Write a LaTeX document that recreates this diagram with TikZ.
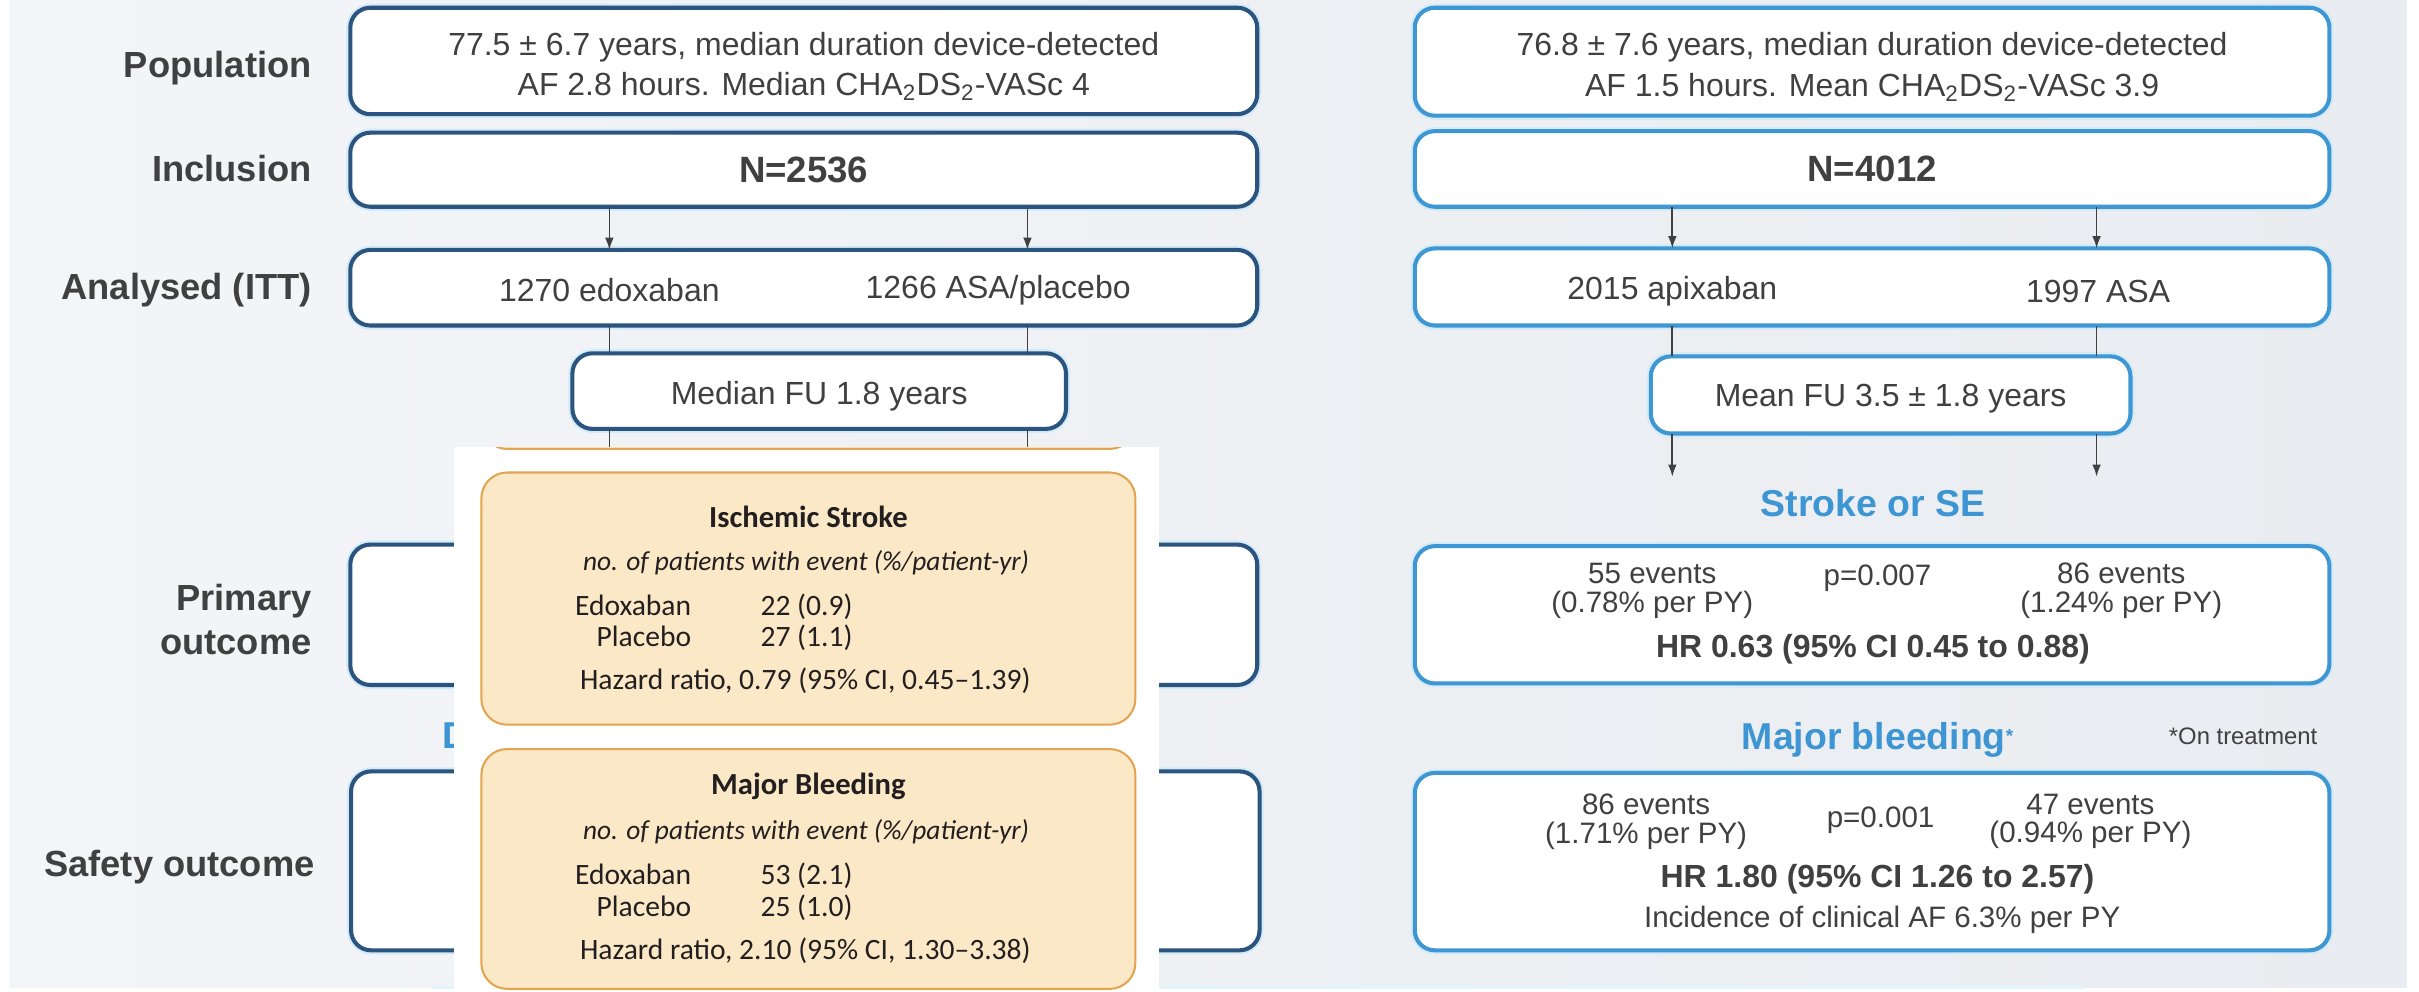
\documentclass[tikz,border=0pt]{standalone}
\usepackage{fontspec}
\setmainfont{Liberation Sans}
\newfontfamily\nejmfont{Carlito}
\usetikzlibrary{arrows.meta}
\definecolor{navyline}{HTML}{2B557F}
\definecolor{skyline}{HTML}{3E97D3}
\definecolor{glow}{HTML}{D3EBF9}
\definecolor{headblue}{HTML}{3D95D4}
\definecolor{txtgray}{HTML}{404040}
\definecolor{bgleft}{HTML}{F3F5F8}
\definecolor{bgright}{HTML}{E9ECF0}
\definecolor{barcyan}{HTML}{E0F5FC}
\definecolor{peach}{HTML}{FBE8C6}
\definecolor{peachline}{HTML}{E2A450}
\definecolor{nejmtext}{HTML}{231F20}

\begin{document}
\begin{tikzpicture}[x=0.02cm, y=-0.02cm,
  every node/.style={text=txtgray, inner sep=0pt, outer sep=0pt},
  navybox/.style={draw=navyline, line width=1.5pt, fill=white, rounded corners=7.4pt,
    preaction={draw=glow, line width=3pt}},
  skybox/.style={draw=skyline, line width=1.5pt, fill=white, rounded corners=7.4pt,
    preaction={draw=glow, line width=3pt}},
  peachbox/.style={draw=peachline, line width=0.75pt, fill=peach, rounded corners=9.5pt},
  body/.style={font=\fontsize{11.8}{15}\selectfont},
  bignum/.style={font=\fontsize{13.5}{16}\selectfont\bfseries},
  rowlbl/.style={anchor=east, align=right, font=\fontsize{13.4}{16.5}\selectfont\bfseries},
  headlbl/.style={text=headblue, font=\fontsize{13.8}{16}\selectfont\bfseries},
  evt/.style={align=center, font=\fontsize{10.9}{10.5}\selectfont},
  hrtxt/.style={font=\fontsize{11.8}{14}\selectfont\bfseries},
  nejm/.style={text=nejmtext, font=\nejmfont\fontsize{10.9}{13}\selectfont},
  nejmit/.style={text=nejmtext, font=\nejmfont\fontsize{10.1}{12}\selectfont\itshape},
  nejmbf/.style={text=nejmtext, font=\nejmfont\fontsize{11.3}{13}\selectfont\bfseries},
  ln/.style={draw=txtgray, line width=0.65pt},
  arr/.style={ln, -{Latex[length=4.5pt,width=3.2pt]}}]

\useasboundingbox (0,0) rectangle (1568,643);
\shade[left color=bgleft, right color=bgright] (6,0) rectangle (1560,640);
\fill[barcyan] (280,639) rectangle (1351,641);

% row labels
\node[rowlbl] (lpop) at (202,44) {Population};
\node[rowlbl] (linc) at (202,109) {Inclusion};
\node[rowlbl] (lana) at (202,188) {Analysed (ITT)};
\node[rowlbl] (lprim) at (202,401.5) {Primary\\outcome};
\node[rowlbl] (lsafe) at (204,562) {Safety outcome};

\coordinate (xl1) at (395,0);
\coordinate (xl2) at (666,0);
\coordinate (xr1) at (1084,0);
\coordinate (xr2) at (1359,0);
\coordinate (tipy) at (0,309);

% left trial
\node[navybox, minimum width=11.76cm, minimum height=1.38cm] (popL) at (521,39.5) {};
\node[body, align=center] (popLt) at (521,43)
  {77.5 ± 6.7 years, median duration device-detected\\AF 2.8 hours. Median CHA\textsubscript{2}DS\textsubscript{2}-VASc 4};
\node[navybox, bignum, minimum width=11.76cm, minimum height=0.96cm] (incL) at (521,110) {N=2536};
\node[navybox, minimum width=11.76cm, minimum height=0.98cm] (anaL) at (521,186.5) {};
\node[body] (edox) at (395,188) {1270 edoxaban};
\node[body] (asaL) at (647,188) {1266 ASA/placebo};
\node[navybox, minimum width=6.4cm, minimum height=0.98cm] (fuL) at (531,253.5) {};
\node[body] (fuLt) at (531,257) {Median FU 1.8 years};
\node[navybox, minimum width=11.76cm, minimum height=1.82cm] (primL) at (521,398.5) {};
\node[navybox, minimum width=11.78cm, minimum height=2.32cm] (safeL) at (522,558) {};
\node[headlbl, anchor=west] (bleedL) at (287,477) {D};

\draw[arr] (incL.south -| xl1) -- (anaL.north -| xl1);
\draw[arr] (incL.south -| xl2) -- (anaL.north -| xl2);
\draw[ln] (anaL.south -| xl1) -- (fuL.north -| xl1);
\draw[ln] (anaL.south -| xl2) -- (fuL.north -| xl2);
\draw[arr] (fuL.south -| xl1) -- (xl1 |- tipy);
\draw[arr] (fuL.south -| xl2) -- (xl2 |- tipy);

% right trial
\node[skybox, minimum width=11.86cm, minimum height=1.4cm] (popR) at (1213.5,40) {};
\node[body, align=center] (popRt) at (1213.5,43.5)
  {76.8 ± 7.6 years, median duration device-detected\\AF 1.5 hours. Mean CHA\textsubscript{2}DS\textsubscript{2}-VASc 3.9};
\node[skybox, bignum, minimum width=11.86cm, minimum height=0.98cm] (incR) at (1213.5,109.5) {N=4012};
\node[skybox, minimum width=11.86cm, minimum height=1.0cm] (anaR) at (1213.5,186) {};
\node[body] (apix) at (1084,189) {2015 apixaban};
\node[body] (asaR) at (1360,189) {1997 ASA};
\node[skybox, minimum width=6.22cm, minimum height=1.0cm] (fuR) at (1225.5,256) {};
\node[body] (fuRt) at (1225.5,258.5) {Mean FU 3.5 ± 1.8 years};

\draw[arr] (incR.south -| xr1) -- (anaR.north -| xr1);
\draw[arr] (incR.south -| xr2) -- (anaR.north -| xr2);
\draw[ln] (anaR.south -| xr1) -- (fuR.north -| xr1);
\draw[ln] (anaR.south -| xr2) -- (fuR.north -| xr2);
\draw[arr] (fuR.south -| xr1) -- (xr1 |- tipy);
\draw[arr] (fuR.south -| xr2) -- (xr2 |- tipy);

\node[headlbl] (sseT) at (1214,326) {Stroke or SE};
\node[skybox, minimum width=11.86cm, minimum height=1.78cm] (sseR) at (1213.5,398.5) {};
\node[evt] (sseA) at (1071,383) {55 events\\(0.78\% per PY)};
\node[evt] (sseP) at (1217,375) {p=0.007};
\node[evt] (sseB) at (1375,383) {86 events\\(1.24\% per PY)};
\node[hrtxt] (sseHR) at (1214,421) {HR 0.63 (95\% CI 0.45 to 0.88)};

\node[headlbl] (bleedT) at (1217,479.5) {Major bleeding\raisebox{2.5pt}{\fontsize{7}{7}\selectfont *}};
\node[font=\fontsize{8.8}{10}\selectfont] (ontx) at (1454,477) {*On treatment};
\node[skybox, minimum width=11.86cm, minimum height=2.3cm] (bleedR) at (1213.5,558.5) {};
\node[evt] (bleedA) at (1067,532.5) {86 events\\(1.71\% per PY)};
\node[evt] (bleedP) at (1219,532) {p=0.001};
\node[evt] (bleedB) at (1355,532.5) {47 events\\(0.94\% per PY)};
\node[hrtxt] (bleedHR) at (1217,570) {HR 1.80 (95\% CI 1.26 to 2.57)};
\node[evt] (bleedAF) at (1220,596) {Incidence of clinical AF 6.3\% per PY};

% pasted results panel
\fill[white] (294,290) rectangle (751,643);
\begin{scope}
  \clip (294,290) rectangle (751,643);
  \draw[peachbox] (312,180) rectangle (736,291);
\end{scope}

\node[peachbox, minimum width=8.48cm, minimum height=3.27cm] (isch) at (524,388) {};
\node[nejmbf] (ischT) at (524,335) {Ischemic Stroke};
\node[nejmit] (ischS) at (522.5,365) {no. of patients with event (\%/patient-yr)};
\node[nejm, anchor=base east] (ischE) at (448,399) {Edoxaban};
\node[nejm, anchor=base west] (ischEn) at (493,399) {22 (0.9)};
\node[nejm, anchor=base east] (ischP) at (448,419) {Placebo};
\node[nejm, anchor=base west] (ischPn) at (493,419) {27 (1.1)};
\node[nejm, anchor=base west] (ischHR) at (376,447) {Hazard ratio, 0.79 (95\% CI, 0.45–1.39)};

\node[peachbox, minimum width=8.48cm, minimum height=3.11cm] (majb) at (524,563.25) {};
\node[nejmbf] (majbT) at (524,510) {Major Bleeding};
\node[nejmit] (majbS) at (522.5,539) {no. of patients with event (\%/patient-yr)};
\node[nejm, anchor=base east] (majbE) at (448,573) {Edoxaban};
\node[nejm, anchor=base west] (majbEn) at (493,573) {53 (2.1)};
\node[nejm, anchor=base east] (majbP) at (448,594) {Placebo};
\node[nejm, anchor=base west] (majbPn) at (493,594) {25 (1.0)};
\node[nejm, anchor=base west] (majbHR) at (376,622) {Hazard ratio, 2.10 (95\% CI, 1.30–3.38)};
\end{tikzpicture}
\end{document}
